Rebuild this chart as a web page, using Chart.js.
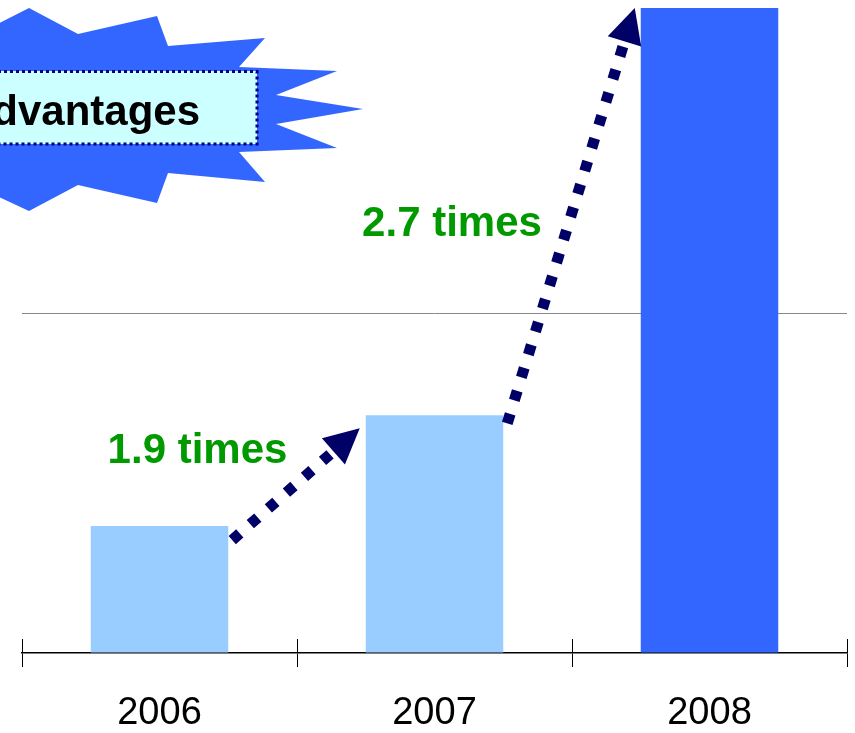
<!DOCTYPE html>
<html>
<head>
<meta charset="utf-8">
<script src="https://cdn.jsdelivr.net/npm/chart.js@4.4.1/dist/chart.umd.min.js"></script>
<style>
  html, body { margin: 0; padding: 0; background: #fff; }
  #wrap { width: 855px; height: 733px; }
</style>
</head>
<body>
<div id="wrap"><canvas id="growthChart"></canvas></div>
<script>
const years = ['2006', '2007', '2008'];
const sales = [37.4, 70, 190];
const barColors = ['#99ccff', '#99ccff', '#3366ff'];
const yTicks = [0, 100, 190];
const growthLabels = ['1.9 times', '2.7 times'];
const calloutText = 'Advantages';

const FONT = "'Liberation Sans', Arial, sans-serif";

// star shape behind the callout box (partly off the left edge)
const starPts = [
  [-10, 28], [29, 8], [78, 34], [157, 16], [168, 46], [265, 38], [239, 67],
  [337, 71], [276, 95], [363, 109], [276, 124], [337, 148], [239, 152],
  [265, 182], [168, 173], [157, 203], [78, 185], [29, 211], [-10, 193]
];

function dottedArrow(ctx, x1, y1, x2, y2) {
  const ang = Math.atan2(y2 - y1, x2 - x1);
  const headLen = 35, headW = 35;
  const bx = x2 - headLen * Math.cos(ang);
  const by = y2 - headLen * Math.sin(ang);
  ctx.save();
  ctx.strokeStyle = '#000066';
  ctx.lineWidth = 11;
  ctx.setLineDash([10, 14]);
  ctx.beginPath();
  ctx.moveTo(x1, y1);
  ctx.lineTo(bx, by);
  ctx.stroke();
  ctx.setLineDash([]);
  ctx.fillStyle = '#000066';
  ctx.beginPath();
  ctx.moveTo(x2, y2);
  ctx.lineTo(bx + headW / 2 * Math.sin(ang), by - headW / 2 * Math.cos(ang));
  ctx.lineTo(bx - headW / 2 * Math.sin(ang), by + headW / 2 * Math.cos(ang));
  ctx.closePath();
  ctx.fill();
  ctx.restore();
}

const extras = {
  id: 'extras',
  afterDraw(chart) {
    const ctx = chart.ctx;
    const xs = chart.scales.x;
    const bars = chart.getDatasetMeta(0).data;

    // upper half of the axis tick marks
    ctx.save();
    ctx.strokeStyle = '#000';
    ctx.lineWidth = 1;
    const step = xs.width / years.length;
    for (let i = 0; i <= years.length; i++) {
      const px = Math.round(xs.left + i * step) + 0.5;
      ctx.beginPath();
      ctx.moveTo(px, xs.top - 14);
      ctx.lineTo(px, xs.top);
      ctx.stroke();
    }
    ctx.restore();

    // starburst + callout
    ctx.save();
    ctx.fillStyle = '#3366ff';
    ctx.beginPath();
    starPts.forEach((p, i) => i ? ctx.lineTo(p[0], p[1]) : ctx.moveTo(p[0], p[1]));
    ctx.closePath();
    ctx.fill();
    ctx.fillStyle = '#ccffff';
    ctx.fillRect(-20, 71, 277, 73);
    ctx.strokeStyle = '#000080';
    ctx.lineWidth = 3;
    ctx.setLineDash([3, 3]);
    ctx.strokeRect(-20, 71.5, 277, 72.5);
    ctx.setLineDash([]);
    ctx.fillStyle = '#000';
    ctx.font = 'bold 42px ' + FONT;
    ctx.textAlign = 'right';
    ctx.textBaseline = 'alphabetic';
    ctx.fillText(calloutText, 200, 125);
    ctx.restore();

    // growth arrows between bars
    const edge = b => ({ l: b.x - b.width / 2, r: b.x + b.width / 2, t: b.y });
    const b0 = edge(bars[0]), b1 = edge(bars[1]), b2 = edge(bars[2]);
    dottedArrow(ctx, b0.r + 4, b0.t + 14, b1.l - 6, b1.t + 13);
    dottedArrow(ctx, b1.r + 4, b1.t + 8, b2.l - 6, b2.t);

    ctx.save();
    ctx.fillStyle = '#009900';
    ctx.font = 'bold 42px ' + FONT;
    ctx.textAlign = 'center';
    ctx.textBaseline = 'alphabetic';
    ctx.fillText(growthLabels[0], 197.5, 463);
    ctx.fillText(growthLabels[1], 452, 236);
    ctx.restore();
  }
};

new Chart(document.getElementById('growthChart'), {
  type: 'bar',
  data: {
    labels: years,
    datasets: [{
      data: sales,
      backgroundColor: barColors,
      borderWidth: 0,
      barPercentage: 0.5,
      categoryPercentage: 1.0
    }]
  },
  options: {
    responsive: true,
    maintainAspectRatio: false,
    animation: false,
    layout: { padding: { left: 22, right: 8, top: 8, bottom: 0 } },
    plugins: { legend: { display: false }, tooltip: { enabled: false } },
    scales: {
      x: {
        afterFit: s => { s.height = 80; },
        grid: { drawOnChartArea: false, drawTicks: true, tickLength: 14, color: '#000', lineWidth: 1 },
        border: { display: true, color: '#000', width: 1.5 },
        ticks: { color: '#000', padding: 28, font: { family: FONT, size: 38, lineHeight: 1 } }
      },
      y: {
        min: 0,
        max: 190,
        afterBuildTicks: s => { s.ticks = yTicks.map(v => ({ value: v })); },
        ticks: { display: false },
        border: { display: false },
        grid: {
          drawTicks: false,
          color: c => (c.tick && c.tick.value === 100) ? '#888888' : 'rgba(0,0,0,0)',
          lineWidth: 1
        }
      }
    }
  },
  plugins: [extras]
});
</script>
</body>
</html>
